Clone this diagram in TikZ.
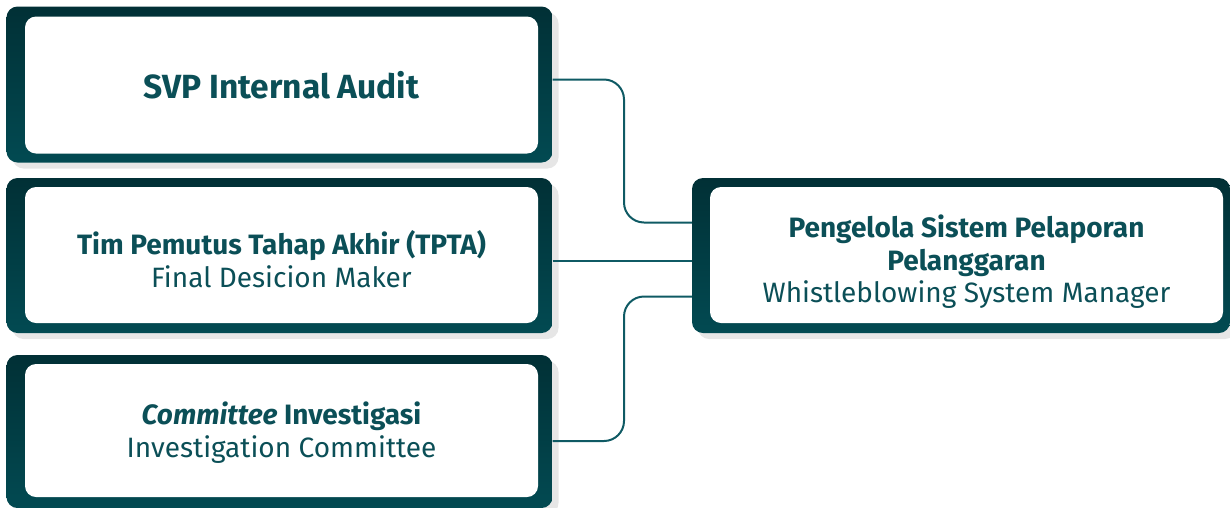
\documentclass[tikz,border=0pt]{standalone}
\usepackage{fontspec}
\setmainfont{Fira Sans}
\usetikzlibrary{shadows}
\definecolor{boxdark}{HTML}{013C43}
\definecolor{boxlight}{HTML}{024A52}
\definecolor{txt}{HTML}{0B4F57}
\definecolor{line}{HTML}{0F5A64}
\tikzset{
  outerbox/.style={draw=none, top color=boxdark!80!black, bottom color=boxlight, rounded corners=11pt, inner sep=0pt,
    drop shadow={shadow xshift=6pt, shadow yshift=-6pt, opacity=0.16, fill=black!60}},
  innerbox/.style={draw=none, fill=white, rounded corners=11pt, inner sep=0pt},
  label/.style={text=txt, align=center, inner sep=0pt, font=\fontsize{28}{32.5}\selectfont},
  conn/.style={draw=line, line width=2pt, rounded corners=20pt},
  big/.style={font=\fontsize{33.5}{38}\selectfont\bfseries},
}
\begin{document}
\begin{tikzpicture}[x=1pt,y=-1pt]
\useasboundingbox (0,0) rectangle (1230,507);
% box 1
\node[outerbox, minimum width=546pt, minimum height=156pt] (b1) at (279.5,84.5) {};
\node[innerbox, minimum width=513pt, minimum height=137pt] (b1i) at (281.5,85) {};
\node[label, big] (t1) at (b1i) {SVP Internal Audit};
% box 2
\node[outerbox, minimum width=546pt, minimum height=155pt] (b2) at (279.5,255.5) {};
\node[innerbox, minimum width=513pt, minimum height=136pt] (b2i) at (281.5,255) {};
\node[label] (t2) at ([yshift=-4pt]b2i) {\textbf{Tim Pemutus Tahap Akhir (TPTA)}\\Final Desicion Maker};
% box 3
\node[outerbox, minimum width=546pt, minimum height=153pt] (b3) at (279.5,431.5) {};
\node[innerbox, minimum width=513pt, minimum height=133pt] (b3i) at (281.5,430.5) {};
\node[label] (t3) at ([yshift=-2pt]b3i) {\textbf{\textit{Committee} Investigasi}\\Investigation Committee};
% box 4
\node[outerbox, minimum width=538pt, minimum height=155pt] (b4) at (961,255.5) {};
\node[innerbox, minimum width=513pt, minimum height=136pt] (b4i) at (966.5,255) {};
\node[label] (t4) at ([yshift=-7pt]b4i) {\textbf{Pengelola Sistem Pelaporan}\\\textbf{Pelanggaran}\\Whistleblowing System Manager};
% connectors
\draw[conn] ([yshift=5pt]b1.east) -- (624,79.5) -- (624,222.5) -- ([yshift=33pt]b4.west);
\draw[conn] ([yshift=-5.5pt]b2.east) -- ([yshift=-5.5pt]b4.west);
\draw[conn] ([yshift=-9.5pt]b3.east) -- (624,441) -- (624,296.5) -- ([yshift=-41pt]b4.west);
\end{tikzpicture}
\end{document}
